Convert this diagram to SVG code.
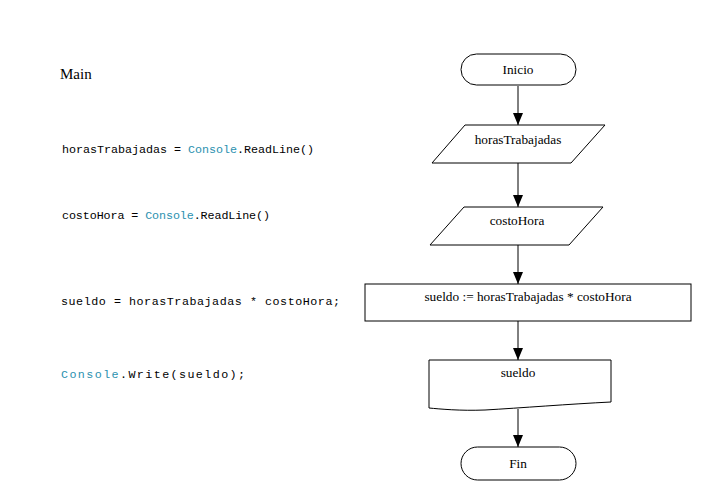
<svg xmlns="http://www.w3.org/2000/svg" width="702" height="495" viewBox="0 0 702 495">
<style>
.shape{fill:#fff;stroke:#000;stroke-width:1}
.fc{font-family:"Liberation Serif","Times New Roman",serif;font-size:13.3px;fill:#000;text-anchor:middle}
.code{font-family:"Liberation Mono","DejaVu Sans Mono",monospace;font-size:11.7px;fill:#000}
.kw{fill:#2b91af}
.conn line{stroke:#000;stroke-width:1}
</style>
<defs>
<marker id="ah" markerWidth="12" markerHeight="10" refX="12" refY="5" orient="auto" markerUnits="userSpaceOnUse" viewBox="0 0 12 10">
<path d="M0,0 L12,5 L0,10 Z" fill="#000"/>
</marker>
</defs>
<rect width="702" height="495" fill="#fff"/>
<g id="code">
<text x="60" y="79" font-family="Liberation Serif,Times New Roman,serif" font-size="15">Main</text>
<text class="code" x="62" y="153" textLength="252">horasTrabajadas = <tspan class="kw">Console</tspan>.ReadLine()</text>
<text class="code" x="62" y="219" textLength="208">costoHora = <tspan class="kw">Console</tspan>.ReadLine()</text>
<text class="code" x="61" y="305" font-size="12.5" textLength="279">sueldo = horasTrabajadas * costoHora;</text>
<text class="code" x="61" y="378" font-size="12.5" textLength="184"><tspan class="kw">Console</tspan>.Write(sueldo);</text>
</g>
<g class="conn" id="connectors">
<line x1="518" y1="86" x2="518" y2="125" marker-end="url(#ah)"/>
<line x1="518" y1="163" x2="518" y2="207" marker-end="url(#ah)"/>
<line x1="518" y1="245" x2="518" y2="284" marker-end="url(#ah)"/>
<line x1="518" y1="321" x2="518" y2="360" marker-end="url(#ah)"/>
<line x1="518" y1="409" x2="518" y2="447" marker-end="url(#ah)"/>
</g>
<g id="inicio">
<rect class="shape" x="461" y="54" width="115" height="31" rx="15.5" ry="15.5"/>
<text class="fc" x="518" y="74">Inicio</text>
</g>
<g id="horas">
<polygon class="shape" points="465,125 605,125 571,163 432,163"/>
<text class="fc" x="518" y="144">horasTrabajadas</text>
</g>
<g id="costo">
<polygon class="shape" points="464,207 603,207 569,245 430,245"/>
<text class="fc" x="517" y="225">costoHora</text>
</g>
<g id="proceso">
<rect class="shape" x="365" y="284" width="326" height="37"/>
<text class="fc" x="528" y="301">sueldo := horasTrabajadas * costoHora</text>
</g>
<g id="salida">
<path class="shape" d="M429,360 L611,360 L611,402 C570,404 520,408 485,410 C460,411 440,409 429,408 Z"/>
<text class="fc" x="518" y="377">sueldo</text>
</g>
<g id="fin">
<rect class="shape" x="461" y="447" width="115" height="33" rx="16.5" ry="16.5"/>
<text class="fc" x="518" y="468">Fin</text>
</g>
</svg>
